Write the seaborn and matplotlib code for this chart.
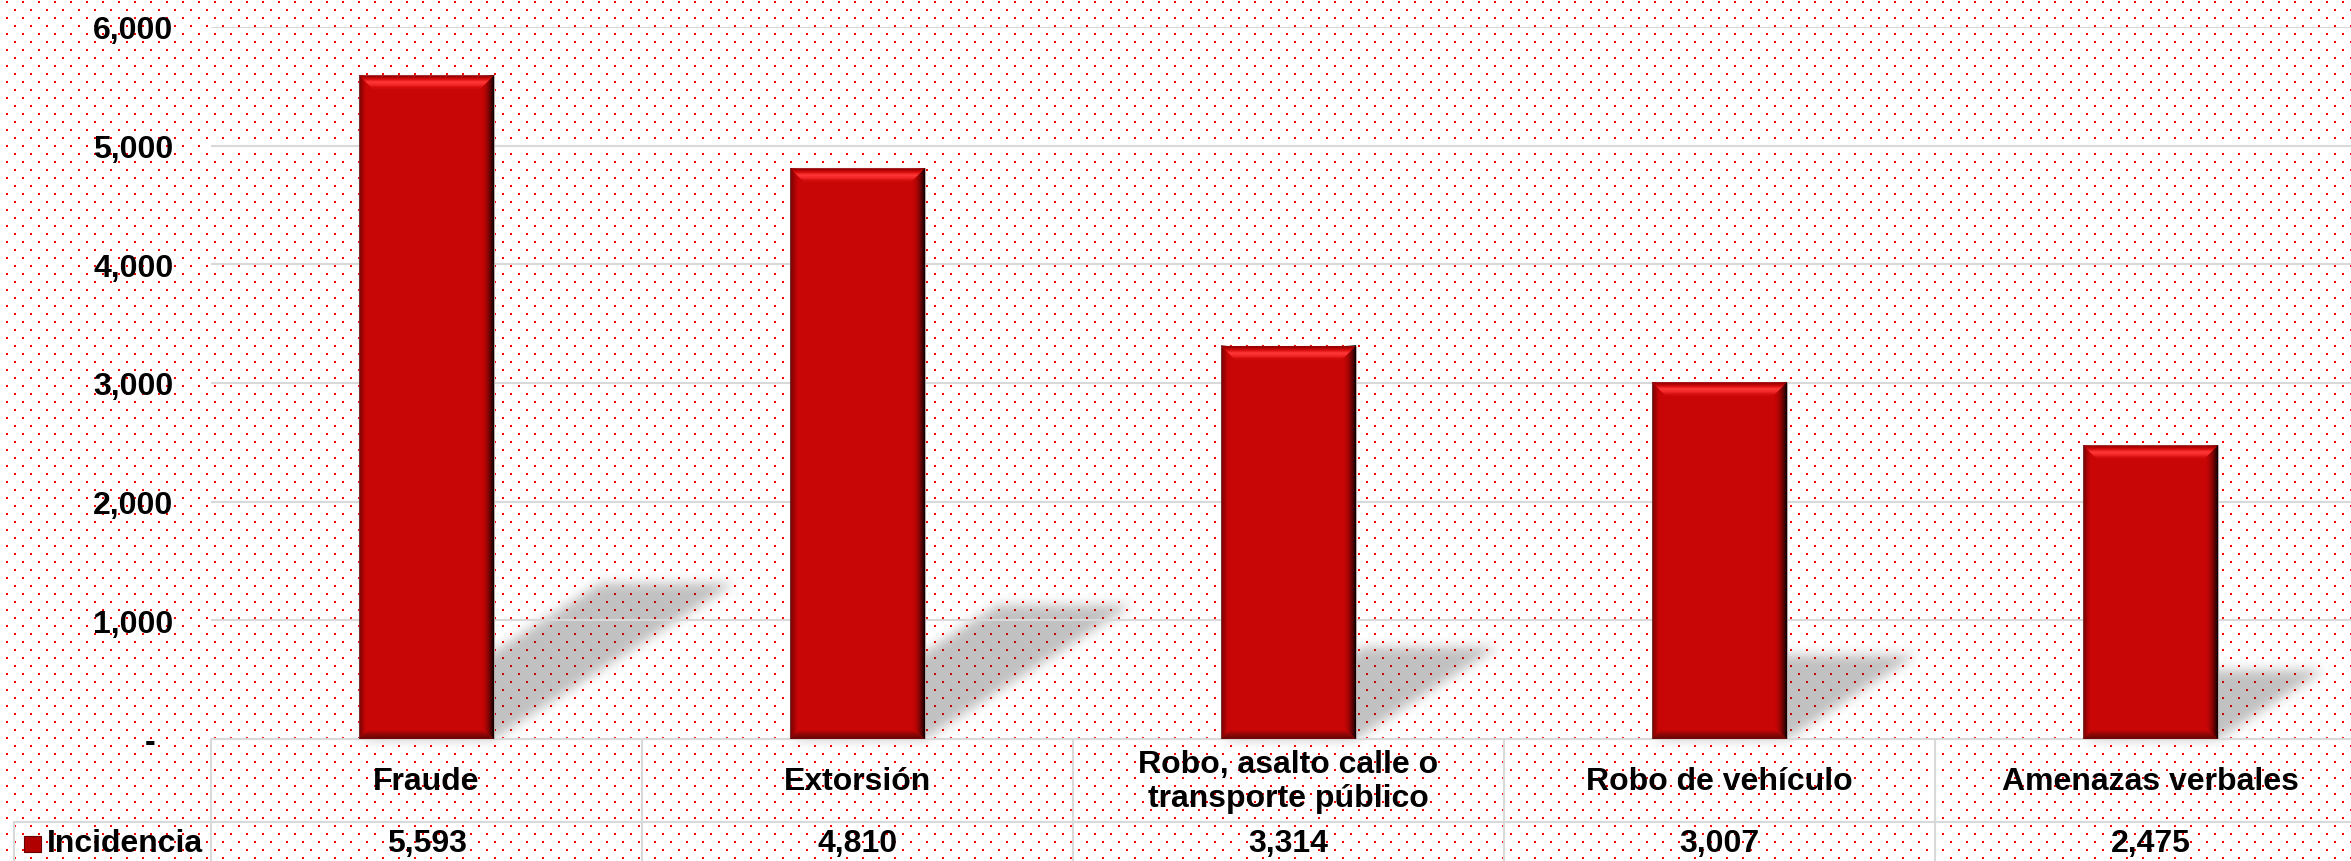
import numpy as np
import pandas as pd
import matplotlib
matplotlib.use("Agg")
import matplotlib.pyplot as plt
import seaborn as sns
from matplotlib.path import Path
from matplotlib.patches import Polygon, Rectangle

categories = ["Fraude", "Extorsión", "Robo, asalto calle o\ntransporte público",
              "Robo de vehículo", "Amenazas verbales"]
incidencia = [5593, 4810, 3314, 3007, 2475]
value_labels = ["5,593", "4,810", "3,314", "3,007", "2,475"]
y_ticks = [0, 1000, 2000, 3000, 4000, 5000, 6000]
y_tick_labels = ["-  ", "1,000", "2,000", "3,000", "4,000", "5,000", "6,000"]
series_name = "Incidencia"

W, H, DPI = 2351, 862, 100
# plot area in pixels (the chart runs a bit past the right edge, like the source)
LEFT, RIGHT, TOP, BASE = 211, 2366, 28, 740
BAR_RED = "#C90606"
GRID = "#D9D9D9"

sns.set_theme(style="white")
plt.rcParams["font.family"] = ["Liberation Sans", "DejaVu Sans"]

fig = plt.figure(figsize=(W / DPI, H / DPI), dpi=DPI, facecolor="white")
ax = fig.add_axes([LEFT / W, (H - BASE) / H, (RIGHT - LEFT) / W, (BASE - TOP) / H])
ax.set_facecolor("none")

df = pd.DataFrame({"Delito": categories, "Incidencia": incidencia})
sns.barplot(data=df, x="Delito", y="Incidencia", color=BAR_RED, saturation=1,
            width=0.313, edgecolor="#B9A9A9", linewidth=0.8, zorder=3, ax=ax)

ax.set_xlim(-0.5, 4.5)
ax.set_ylim(0, 6000)
ax.set_yticks(y_ticks)
ax.set_yticklabels(y_tick_labels, fontsize=23, fontweight="bold", color="black")
ax.tick_params(axis="y", length=0, pad=27)
ax.set_xticks([])
ax.set_xlabel("")
ax.set_ylabel("")
ax.yaxis.grid(True, color=GRID, linewidth=1.5)
ax.set_axisbelow(True)
for s in ax.spines.values():
    s.set_visible(False)

ux = 5.0 / (RIGHT - LEFT)     # data x per pixel
uy = 6000.0 / (BASE - TOP)    # data y per pixel


def px_x(px):
    return -0.5 + (px - LEFT) * ux


def px_yax(py):
    return (BASE - py) / (BASE - TOP)


# background: white with red dot pattern, plus soft perspective shadows
bg = np.ones((H, W, 3))
for y0, x0 in [(2, 6), (10, 14)]:
    for dy in range(2):
        for dx in range(2):
            bg[y0 + dy::16, x0 + dx::16] = [1.0, 0.0, 0.0]

mask = np.zeros((H, W))
yy, xx = np.mgrid[0:H, 0:W]
for p in ax.patches:
    x0, w, h = p.get_x(), p.get_width(), p.get_height()
    rise = 0.235 * h
    slant = 1.0e-4 * h
    verts = [(x0, 0), (x0 + w, 0), (x0 + w + slant, rise), (x0 + slant, rise)]
    disp = ax.transData.transform(verts)
    disp[:, 1] = H - disp[:, 1]
    xmin, xmax = int(disp[:, 0].min()) - 2, min(W, int(disp[:, 0].max()) + 2)
    ymin, ymax = int(disp[:, 1].min()) - 2, min(H, int(disp[:, 1].max()) + 2)
    sub = np.column_stack([xx[ymin:ymax, xmin:xmax].ravel() + 0.5,
                           yy[ymin:ymax, xmin:xmax].ravel() + 0.5])
    inside = Path(disp).contains_points(sub).reshape(ymax - ymin, xmax - xmin)
    mask[ymin:ymax, xmin:xmax] = np.maximum(mask[ymin:ymax, xmin:xmax], inside)


def box_blur(a, r):
    k = 2 * r + 1
    p = np.pad(a, ((r, r), (0, 0)), mode="edge")
    c = np.cumsum(np.vstack([np.zeros((1, p.shape[1])), p]), axis=0)
    a = (c[k:] - c[:-k]) / k
    p = np.pad(a, ((0, 0), (r, r)), mode="edge")
    c = np.cumsum(np.hstack([np.zeros((p.shape[0], 1)), p]), axis=1)
    return (c[:, k:] - c[:, :-k]) / k


mask = box_blur(box_blur(mask, 6), 6)
bg *= (1 - 0.24 * mask)[..., None]
fig.figimage(bg, xo=0, yo=0, origin="upper", zorder=-10)

# bevel look on the bars
for p in ax.patches:
    x0, w, h = p.get_x(), p.get_width(), p.get_height()
    x1 = x0 + w
    right = np.zeros((1, 32, 4))
    right[..., 3] = np.linspace(0, 1, 32) ** 2 * 0.95
    ax.imshow(right, extent=[x1 - 14 * ux, x1, 0, h], aspect="auto",
              interpolation="bilinear", zorder=4)
    left = np.zeros((1, 16, 4))
    left[..., 0] = 0.35
    left[..., 3] = np.linspace(0.75, 0, 16)
    ax.imshow(left, extent=[x0, x0 + 7 * ux, 0, h], aspect="auto",
              interpolation="bilinear", zorder=4)

    d = 14
    top_poly = Polygon([(x0, h), (x1, h), (x1 - d * ux, h - d * uy),
                        (x0 + d * ux, h - d * uy)], closed=True,
                       transform=ax.transData)
    top = np.array([[0.62, 0.0, 0.0, 1], [0.85, 0.05, 0.05, 1],
                    [1.0, 0.22, 0.22, 1], [0.95, 0.15, 0.15, 1],
                    [0.82, 0.04, 0.04, 1]])[:, None, :]
    im = ax.imshow(top, extent=[x0, x1, h - d * uy, h], aspect="auto",
                   interpolation="bilinear", zorder=5)
    im.set_clip_path(top_poly)

    b = 10
    bot_poly = Polygon([(x0, 0), (x1, 0), (x1 - b * ux, b * uy),
                        (x0 + b * ux, b * uy)], closed=True,
                       transform=ax.transData)
    bot = np.array([[0.79, 0.02, 0.02, 1], [0.6, 0.03, 0.03, 1],
                    [0.45, 0.02, 0.02, 1]])[:, None, :]
    im = ax.imshow(bot, extent=[x0, x1, 0, b * uy], aspect="auto",
                   interpolation="bilinear", zorder=5)
    im.set_clip_path(bot_poly)

ax.set_xlim(-0.5, 4.5)
ax.set_ylim(0, 6000)

# data table under the plot
tr = ax.get_xaxis_transform()
row2 = px_yax(823)
bottom = px_yax(900)
leg_x = px_x(14)
line_kw = dict(color=GRID, linewidth=1.5, transform=tr, clip_on=False, zorder=2)
ax.plot([-0.5, 4.5], [0, 0], **line_kw)
ax.plot([leg_x, 4.5], [row2, row2], **line_kw)
ax.plot([leg_x, leg_x], [row2, bottom], **line_kw)
for i in range(len(categories) + 1):
    ax.plot([i - 0.5, i - 0.5], [0, bottom], **line_kw)

txt_kw = dict(transform=tr, clip_on=False, fontsize=23, fontweight="bold",
              color="black", ha="center", va="center")
for i, (cat, val) in enumerate(zip(categories, value_labels)):
    ax.text(i, px_yax(782), cat, linespacing=1.2, **txt_kw)
    ax.text(i, px_yax(844), val, **txt_kw)

ax.add_patch(Rectangle((px_x(24), px_yax(853)), 17 * ux, px_yax(837) - px_yax(853),
                       facecolor="#B00000", edgecolor="#6A0000", linewidth=0.8,
                       transform=tr, clip_on=False, zorder=3))
ax.text(px_x(47), px_yax(844), series_name, transform=tr, clip_on=False,
        fontsize=23, fontweight="bold", color="black", ha="left", va="center")

fig.savefig("out.png", dpi=DPI, facecolor="white")
